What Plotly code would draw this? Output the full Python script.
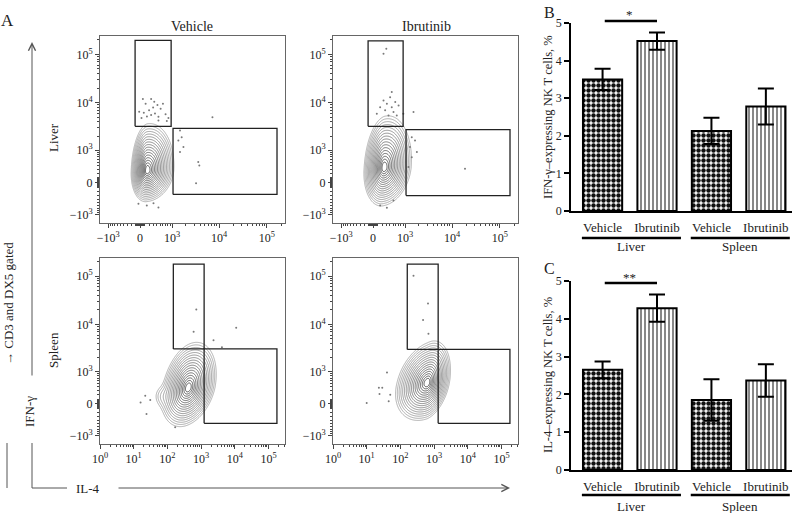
import numpy as np
import plotly.graph_objects as go

W, H = 796, 513
SERIF = "Liberation Serif"

# ---------------- Panels B / C data ----------------
tissues = ["Liver", "Liver", "Spleen", "Spleen"]
treatments = ["Vehicle", "Ibrutinib", "Vehicle", "Ibrutinib"]
ifng_pct = [3.50, 4.52, 2.13, 2.78]
ifng_sem = [0.28, 0.23, 0.35, 0.48]
il4_pct = [2.65, 4.28, 1.85, 2.37]
il4_sem = [0.22, 0.36, 0.55, 0.43]
pct_ticks = [0, 1, 2, 3, 4, 5]
sig_ifng = "*"
sig_il4 = "**"

# ---------------- Panel A data ----------------
biex_ticks = [-1000, 0, 1000, 10000, 100000]
biex_labels = ["−10<sup>3</sup>", "0", "10<sup>3</sup>", "10<sup>4</sup>", "10<sup>5</sup>"]
log_ticks = [1, 10, 100, 1000, 10000, 100000]
log_labels = ["10<sup>0</sup>", "10<sup>1</sup>", "10<sup>2</sup>",
              "10<sup>3</sup>", "10<sup>4</sup>", "10<sup>5</sup>"]

# gates: (IL-4 min, IL-4 max, IFN-γ min, IFN-γ max)
gates_liver_vehicle = [(-110, 950, 3240, 194000), (1050, 163000, -270, 2930)]
gates_liver_ibrutinib = [(-110, 900, 3240, 190000), (1050, 163000, -300, 2770)]
gates_spleen_vehicle = [(150, 1230, 3070, 178000), (1230, 178000, -490, 3070)]
gates_spleen_ibrutinib = [(160, 1320, 3000, 178000), (1320, 178000, -490, 3000)]

# outlier events (IL-4, IFN-γ)
liver_vehicle_il4 = [60, 250, 120, 420, 300, 520, 200, 80, 350, 700, 150, 450, 30, 820, 330, -20,
                     600, 250, 450, 750, 7300, 1500, 1630, 1380, 1780, 1500, 3680, 3870, 3300,
                     -36, 147, 310, 450]
liver_vehicle_ifng = [12000, 12000, 9500, 9000, 8000, 7500, 7000, 6200, 6000, 5800, 5200, 5100,
                      4800, 4800, 10500, 6500, 9500, 5600, 4300, 4200, 5000, 2650, 1900, 1630,
                      1170, 900, 510, 405, -15, -535, -600, -520, -670]
liver_ibrutinib_il4 = [305, 235, 460, 410, 235, 575, 320, 155, 460, 700, 275, 515, 365, 80, 630,
                       1540, 910, 1410, 1660, 1290, 1820, 1410, 1190, 18700, 155, 320, 515]
liver_ibrutinib_ifng = [131000, 103000, 16600, 13000, 11100, 10300, 9550, 8100, 8100, 8800, 6950,
                        6400, 5450, 5900, 5450, 6400, 5900, 1900, 1630, 1170, 900, 680, 360, 315,
                        -600, -680, -435]
spleen_vehicle_il4 = [720, 600, 11000, 2340, 4150, 22, 16, 31, 24, 170]
spleen_vehicle_ifng = [20400, 7000, 8500, 4650, 3350, 175, 27, 80, -230, -620]
spleen_ibrutinib_il4 = [245, 660, 470, 680, 40, 23, 29, 24, 50, 10, 45]
spleen_ibrutinib_ifng = [103000, 27300, 12300, 6400, 950, 380, 380, 215, 200, 15, 50]

# contour populations in display units (biex channel; log10 for spleen IL-4)
# (center IL-4, center IFN-γ, sd left, sd right, sd down, sd up, correlation, weight)
pop_liver_vehicle = [(0.34, 0.57, 0.27, 0.45, 0.52, 0.78, 0.1, 1.0)]
pop_liver_ibrutinib = [(0.53, 0.71, 0.34, 0.46, 0.64, 0.86, 0.15, 1.0)]
pop_spleen_vehicle = [(2.62, 0.76, 0.28, 0.29, 0.65, 0.76, 0.3, 1.0),
                      (1.85, 0.35, 0.15, 0.2, 0.3, 0.3, 0.0, 0.03)]
pop_spleen_ibrutinib = [(2.8, 1.0, 0.33, 0.24, 0.63, 0.70, 0.3, 1.0)]

BIEX_W = 450.0
BIEX_RANGE = [-1.93, 6.97]
LOG_RANGE = [0, 5.49]


def biex(v):
    return np.arcsinh(np.asarray(v, dtype=float) / BIEX_W)


def px(x):
    return x / W


def py(y):
    return 1 - y / H


def density_r(gx, gy, comps):
    X, Y = np.meshgrid(gx, gy)
    p = np.zeros_like(X)
    for cx, cy, sl, sr, sd, su, rho, w in comps:
        dx = np.where(X < cx, (X - cx) / sl, (X - cx) / sr)
        dy = np.where(Y < cy, (Y - cy) / sd, (Y - cy) / su)
        q = (dx ** 2 - 2 * rho * dx * dy + dy ** 2) / (1 - rho ** 2)
        p += w * np.exp(-0.5 * q)
    p = p / p.max()
    p = np.clip(p, 1e-12, 1)
    return np.sqrt(-2 * np.log(p))


fig = go.Figure()

panels = [
    ("1", pop_liver_vehicle, gates_liver_vehicle, liver_vehicle_il4, liver_vehicle_ifng, False),
    ("2", pop_liver_ibrutinib, gates_liver_ibrutinib, liver_ibrutinib_il4, liver_ibrutinib_ifng, False),
    ("3", pop_spleen_vehicle, gates_spleen_vehicle, spleen_vehicle_il4, spleen_vehicle_ifng, True),
    ("4", pop_spleen_ibrutinib, gates_spleen_ibrutinib, spleen_ibrutinib_il4, spleen_ibrutinib_ifng, True),
]

gy = np.linspace(BIEX_RANGE[0], BIEX_RANGE[1], 300)
for sid, pop, gates, dx, dy, logx in panels:
    xa = "x" if sid == "1" else "x" + sid
    ya = "y" if sid == "1" else "y" + sid
    if logx:
        gx = np.linspace(LOG_RANGE[0], LOG_RANGE[1], 300)
        cx = 10 ** gx
    else:
        gx = np.linspace(BIEX_RANGE[0], BIEX_RANGE[1], 300)
        cx = gx
    r = density_r(gx, gy, pop)
    fig.add_trace(go.Contour(
        x=cx, y=gy, z=r, xaxis=xa, yaxis=ya,
        contours=dict(start=0.3, end=3.0, size=0.16, coloring="lines"),
        colorscale=[[0, "#333333"], [1, "#9c9c9c"]], zmin=0.3, zmax=3.0,
        showscale=False, line=dict(width=0.8, smoothing=1), hoverinfo="skip"))
    ex = np.asarray(dx, float) if logx else biex(dx)
    fig.add_trace(go.Scatter(x=ex, y=biex(dy), mode="markers", xaxis=xa, yaxis=ya,
                             marker=dict(size=2, color="#7a7a7a"), hoverinfo="skip"))
    for x0, x1, y0, y1 in gates:
        gxs = [x0, x1, x1, x0, x0]
        gxs = gxs if logx else biex(gxs)
        fig.add_trace(go.Scatter(x=gxs, y=biex([y0, y0, y1, y1, y0]), mode="lines",
                                 xaxis=xa, yaxis=ya, line=dict(color="#222", width=1.3),
                                 hoverinfo="skip"))

# ---------------- bar panels ----------------
pos = np.arange(len(treatments))
vis = [i for i, t in enumerate(treatments) if t == "Vehicle"]
ibr = [i for i, t in enumerate(treatments) if t == "Ibrutinib"]

for sid, vals, errs in [("5", ifng_pct, ifng_sem), ("6", il4_pct, il4_sem)]:
    for idx, pat in [(vis, dict(shape=".", size=5, solidity=0.62, fgcolor="#111", bgcolor="white")),
                     (ibr, dict(shape="|", size=4, solidity=0.35, fgcolor="#555", bgcolor="white"))]:
        fig.add_trace(go.Bar(
            x=pos[idx], y=[vals[i] for i in idx], width=0.72,
            xaxis="x" + sid, yaxis="y" + sid,
            marker=dict(color="white", line=dict(color="black", width=2), pattern=pat),
            error_y=dict(type="data", array=[errs[i] for i in idx], color="black",
                         thickness=2, width=8),
            hoverinfo="skip"))

# ---------------- axes ----------------
biex_minor = sorted(set([-k * 10 ** n for n in (1, 2) for k in range(1, 10)] +
                        [k * 10 ** n for n in (1, 2, 3, 4) for k in range(1, 10)] + [200000]) -
                    set(biex_ticks))
log_minor = [k * 10 ** n for n in range(0, 6) for k in range(2, 10) if k * 10 ** n < 10 ** LOG_RANGE[1]]

tickfont = dict(family=SERIF, size=12, color="#222")


def flow_axis(domain, anchor, logx=False):
    if logx:
        d = dict(type="log", range=LOG_RANGE, tickvals=log_ticks, ticktext=log_labels,
                 minor=dict(tickmode="array", tickvals=log_minor, ticks="outside", ticklen=2,
                            tickcolor="#444", showgrid=False))
    else:
        d = dict(type="linear", range=BIEX_RANGE, tickvals=list(biex(biex_ticks)), ticktext=biex_labels,
                 minor=dict(tickmode="array", tickvals=list(biex(biex_minor)), ticks="outside",
                            ticklen=2, tickcolor="#444", showgrid=False))
    d.update(domain=domain, anchor=anchor, tickmode="array", ticks="outside", ticklen=4,
             tickwidth=1, tickcolor="#444", showline=True, mirror=True, linecolor="#666",
             linewidth=1, showgrid=False, zeroline=False, tickfont=tickfont, fixedrange=True,
             automargin=False)
    return d


XL = [px(100), px(285)]
XR = [px(333), px(518)]
YT = [py(223), py(36)]
YB = [py(444), py(258)]

layout = dict(
    template="none",
    width=W, height=H, autosize=False,
    margin=dict(l=0, r=0, t=0, b=0, pad=0, autoexpand=False),
    paper_bgcolor="white", plot_bgcolor="white", showlegend=False, hovermode=False,
    font=dict(family=SERIF, color="#222"),
    xaxis=flow_axis(XL, "y"), yaxis=flow_axis(YT, "x"),
    xaxis2=flow_axis(XR, "y2"), yaxis2=flow_axis(YT, "x2"),
    xaxis3=flow_axis(XL, "y3", logx=True), yaxis3=flow_axis(YB, "x3"),
    xaxis4=flow_axis(XR, "y4", logx=True), yaxis4=flow_axis(YB, "x4"),
)

XB = [px(571), px(792)]
for sid, dom in [("5", [py(211), py(23)]), ("6", [py(470), py(281)])]:
    layout["xaxis" + sid] = dict(domain=XB, anchor="y" + sid, range=[-0.58, 3.48],
                                 tickmode="array", tickvals=list(pos), ticktext=treatments,
                                 ticks="outside", ticklen=4, tickcolor="rgba(0,0,0,0)",
                                 showline=True, linecolor="black", linewidth=1.5,
                                 showgrid=False, zeroline=False, automargin=False,
                                 tickfont=dict(family=SERIF, size=13, color="#222"))
    layout["yaxis" + sid] = dict(domain=dom, anchor="x" + sid, range=[0, 5],
                                 tickmode="array", tickvals=pct_ticks,
                                 ticks="outside", ticklen=5, tickwidth=1.5, tickcolor="black",
                                 showline=True, linecolor="black", linewidth=1.5,
                                 showgrid=False, zeroline=False, automargin=False,
                                 tickfont=dict(family=SERIF, size=12, color="#222"))
fig.update_layout(**layout)

# ---------------- annotations & decorations ----------------
ann = []
shapes = []


def text(x, y, s, size=13, angle=0, **kw):
    d = dict(x=px(x), y=py(y), xref="paper", yref="paper", text=s, showarrow=False,
             font=dict(family=SERIF, size=size, color="#222"), textangle=angle,
             xanchor="center", yanchor="middle")
    d.update(kw)
    ann.append(d)


text(7, 20, "A", 17)
text(549, 12, "B", 16)
text(549, 268, "C", 16)
text(192, 27, "Vehicle", 14)
text(426, 27, "Ibrutinib", 14)
text(53, 138, "Liver", 13, -90)
text(53, 350, "Spleen", 13, -90)
text(29, 412, "IFN-γ", 13, -90)
text(88, 488, "IL-4", 13)
text(8, 304, "→ CD3 and DX5 gated", 13, -90)
text(548, 117, "IFN-γ–expressing NK T cells, %", 12.5, -90)
text(548, 375, "IL-4–expressing NK T cells, %", 12.5, -90)

# lines of the outer axes
for (x0, y0, x1, y1) in [(7, 443, 7, 488), (32, 443, 32, 488), (32, 488, 67, 488)]:
    shapes.append(dict(type="line", xref="paper", yref="paper", x0=px(x0), y0=py(y0),
                       x1=px(x1), y1=py(y1), line=dict(color="#555", width=1)))
ann.append(dict(x=px(32), y=py(42), xref="paper", yref="paper", ax=0, ay=335, text="",
                showarrow=True, arrowhead=5, arrowsize=1.4, arrowwidth=1, arrowcolor="#555"))
ann.append(dict(x=px(510), y=py(488), xref="paper", yref="paper", ax=-393, ay=0, text="",
                showarrow=True, arrowhead=5, arrowsize=1.4, arrowwidth=1, arrowcolor="#555"))

# group underlines and labels, significance bars
for sid, lab_y, line_y, sig_y, star_y, star in [("5", 247, 238, 21, 15, sig_ifng),
                                                  ("6", 506, 495, 283, 277, sig_il4)]:
    groups = []
    for t in tissues:
        if t not in groups:
            groups.append(t)
    for g in groups:
        gi = [i for i, t in enumerate(tissues) if t == g]
        a, b = pos[gi[0]] - 0.38, pos[gi[-1]] + 0.44
        shapes.append(dict(type="line", xref="x" + sid, yref="paper", x0=a, x1=b,
                           y0=py(line_y), y1=py(line_y), line=dict(color="black", width=2.5)))
        ann.append(dict(x=(a + b) / 2, y=py(lab_y), xref="x" + sid, yref="paper", text=g,
                        showarrow=False, font=dict(family=SERIF, size=13, color="#222"),
                        xanchor="center", yanchor="middle"))
    shapes.append(dict(type="line", xref="x" + sid, yref="paper", x0=pos[0] + 0.04, x1=pos[1],
                       y0=py(sig_y), y1=py(sig_y), line=dict(color="black", width=2.5)))
    ann.append(dict(x=(pos[0] + pos[1]) / 2, y=py(star_y), xref="x" + sid, yref="paper",
                    text=star, showarrow=False, font=dict(family=SERIF, size=13, color="#222"),
                    xanchor="center", yanchor="middle"))

fig.update_layout(annotations=ann, shapes=shapes)
fig.write_html("out.html", config={"displayModeBar": False},
               post_script="document.body.style.margin='0';document.body.style.padding='0';")
